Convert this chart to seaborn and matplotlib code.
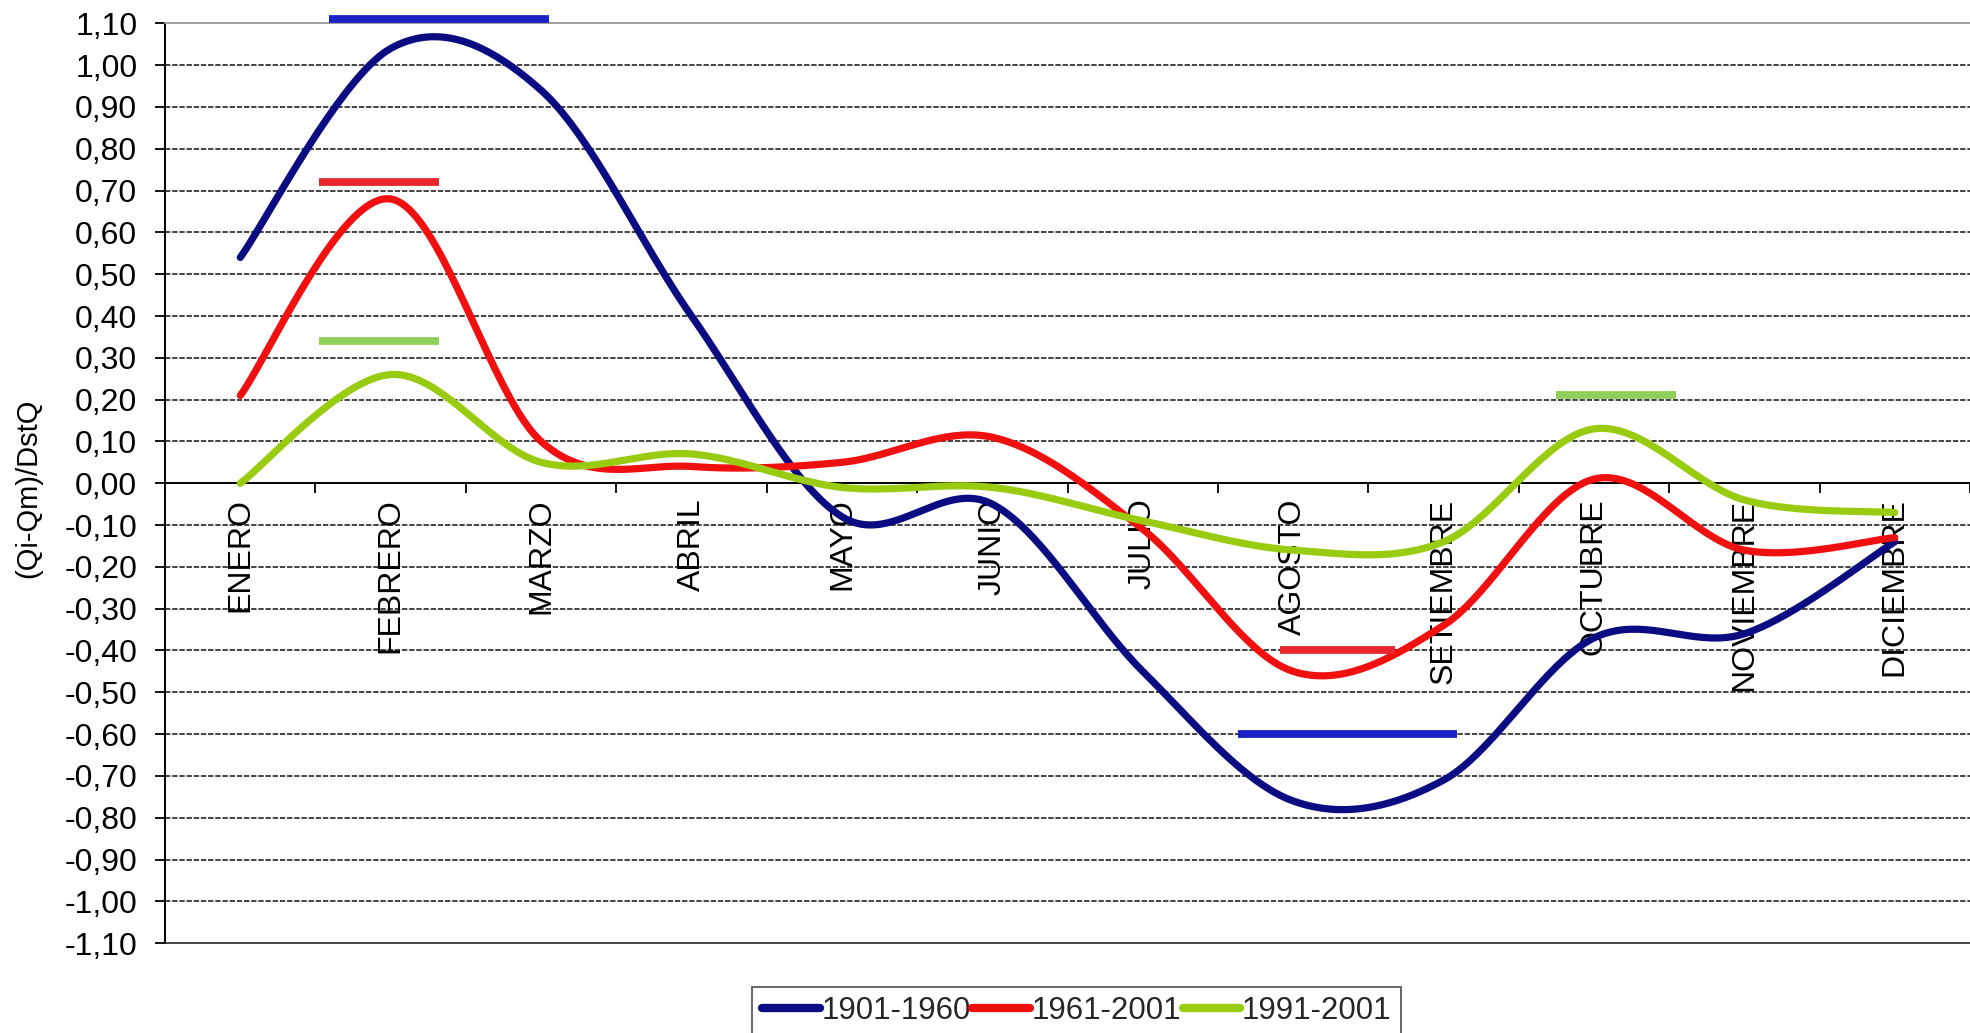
import numpy as np
import pandas as pd
import matplotlib
matplotlib.use("Agg")
import matplotlib.pyplot as plt
from matplotlib.lines import Line2D
from matplotlib.ticker import FuncFormatter
import seaborn as sns

# ---------------- data ----------------
months = ["ENERO", "FEBRERO", "MARZO", "ABRIL", "MAYO", "JUNIO", "JULIO",
          "AGOSTO", "SETIEMBRE", "OCTUBRE", "NOVIEMBRE", "DICIEMBRE"]
series_names = ["1901-1960", "1961-2001", "1991-2001"]
s1901_1960 = [0.54, 1.04, 0.94, 0.40, -0.08, -0.05, -0.45, -0.76, -0.71, -0.37, -0.36, -0.14]
s1961_2001 = [0.21, 0.68, 0.10, 0.04, 0.05, 0.11, -0.11, -0.45, -0.34, 0.01, -0.16, -0.13]
s1991_2001 = [0.00, 0.26, 0.05, 0.07, -0.01, -0.01, -0.09, -0.16, -0.14, 0.13, -0.04, -0.07]

# reference level bars (series, level, start/end on the month axis)
bar_series = ["1901-1960", "1961-2001", "1991-2001", "1961-2001", "1991-2001", "1901-1960"]
bar_level = [1.11, 0.72, 0.34, -0.40, 0.21, -0.60]
bar_start = [0.59, 0.525, 0.525, 6.91, 8.75, 6.63]
bar_end = [2.05, 1.32, 1.32, 7.68, 9.545, 8.09]

y_label = "(Qi-Qm)/DstQ"

# ---------------- style ----------------
sns.set_theme(style="white")
plt.rcParams["font.family"] = ["Liberation Sans", "DejaVu Sans"]

curve_colors = {"1901-1960": "#0c0c82", "1961-2001": "#f01010", "1991-2001": "#99cc11"}
bar_colors = {"1901-1960": "#1a22c8", "1961-2001": "#e8262c", "1991-2001": "#8fd05a"}


def smooth(vals, n=40):
    """Excel-like smoothed line (Bezier with Catmull-Rom tangents)."""
    v = np.asarray(vals, float)
    m = len(v)
    xs, ys = [], []
    for i in range(m - 1):
        i0, i3 = max(i - 1, 0), min(i + 2, m - 1)
        p0, p1, p2, p3 = v[i0], v[i], v[i + 1], v[i3]
        c1x = i + (i + 1 - i0) / 6.0
        c2x = i + 1 - (i3 - i) / 6.0
        c1y = p1 + (p2 - p0) / 6.0
        c2y = p2 - (p3 - p1) / 6.0
        t = np.linspace(0, 1, n, endpoint=(i == m - 2))
        a, b, c, d = (1 - t) ** 3, 3 * (1 - t) ** 2 * t, 3 * (1 - t) * t ** 2, t ** 3
        xs.append(a * i + b * c1x + c * c2x + d * (i + 1))
        ys.append(a * p1 + b * c1y + c * c2y + d * p2)
    return np.concatenate(xs), np.concatenate(ys)


frames = []
for name, vals in zip(series_names, [s1901_1960, s1961_2001, s1991_2001]):
    sx, sy = smooth(vals)
    frames.append(pd.DataFrame({"x": sx, "y": sy, "Periodo": name}))
df = pd.concat(frames, ignore_index=True)

fig = plt.figure(figsize=(19.7, 10.33), dpi=100)
ax = fig.add_axes([0.0838, 0.087, 0.9162, 0.8904])

ymin, ymax = -1.10, 1.10
yticks = np.round(np.arange(-1.1, 1.1001, 0.1), 2)

# gridlines
for v in yticks:
    if abs(v) < 1e-9 or abs(abs(v) - 1.1) < 1e-9:
        continue
    ax.axhline(v, color="#111111", lw=1.1, linestyle=(0, (3.5, 1.2)), zorder=0.5)
ax.axhline(ymin, color="#444444", lw=1.4, zorder=0.6, clip_on=False)

sns.lineplot(data=df, x="x", y="y", hue="Periodo", palette=curve_colors,
             hue_order=series_names, sort=False, estimator=None,
             linewidth=5.2, legend=False, ax=ax, zorder=3)
for ln in ax.lines:
    ln.set_solid_capstyle("round")

for s, lv, x0, x1 in zip(bar_series, bar_level, bar_start, bar_end):
    ax.hlines(lv, x0, x1, color=bar_colors[s], lw=5.6, zorder=4, clip_on=False)

ax.set_xlim(-0.5, 11.5)
ax.set_ylim(ymin, ymax)

# axes / spines
ax.spines["right"].set_visible(False)
ax.spines["top"].set_color("#999999")
ax.spines["top"].set_linewidth(1.3)
ax.spines["left"].set_color("black")
ax.spines["left"].set_linewidth(1.4)
ax.spines["bottom"].set_position(("data", 0))
ax.spines["bottom"].set_color("black")
ax.spines["bottom"].set_linewidth(1.4)

ax.set_xticks(range(len(months)))
ax.set_xticklabels(months)
ax.set_xticks(np.arange(-0.5, len(months), 1.0), minor=True)
ax.tick_params(axis="x", which="major", length=0, pad=11, labelsize=23,
               labelrotation=90, bottom=True, colors="black")
ax.tick_params(axis="x", which="minor", length=7, width=1.3, bottom=True,
               direction="out", color="black")

ax.set_yticks(yticks)
ax.yaxis.set_major_formatter(FuncFormatter(
    lambda v, p: ("%.2f" % (0.0 if abs(v) < 1e-9 else v)).replace(".", ",")))
ax.tick_params(axis="y", length=7, width=1.3, left=True, direction="out",
               pad=13, labelsize=23, colors="black")

ax.set_xlabel("")
ax.set_ylabel("")
fig.text(28 / 1970, 1 - 488 / 1033, y_label, rotation=90, ha="center",
         va="center", fontsize=21, color="black")

handles = [Line2D([0], [0], color=curve_colors[n], lw=6) for n in series_names]
leg = fig.legend(handles, series_names, ncol=3, loc="upper center",
                 bbox_to_anchor=(0.5465, 0.0445), fontsize=22.5, frameon=True,
                 fancybox=False, edgecolor="#333333", handlelength=1.85,
                 handletextpad=0.05, columnspacing=0.05, borderpad=0.3,
                 borderaxespad=0)
leg.get_frame().set_linewidth(1.3)

fig.savefig("out.png", dpi=100, facecolor="white")
